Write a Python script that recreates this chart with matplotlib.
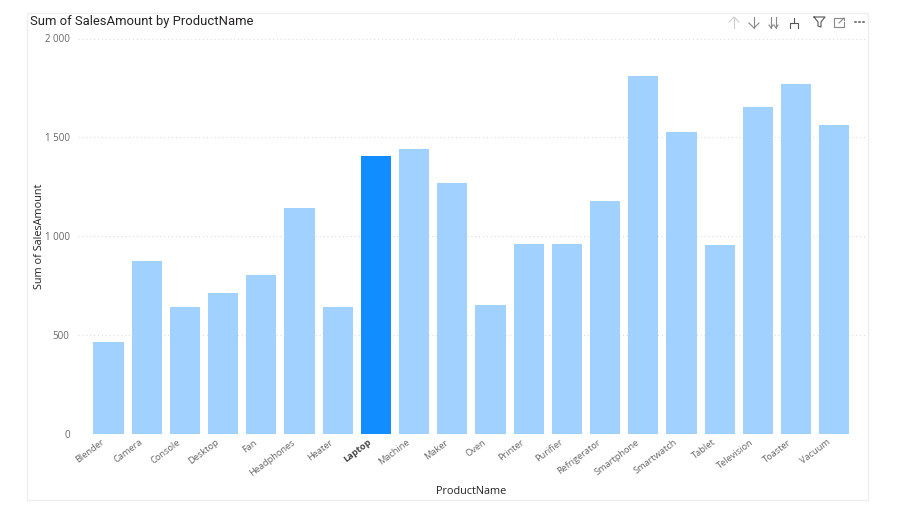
import matplotlib
matplotlib.use('Agg')
import matplotlib.pyplot as plt
from matplotlib.lines import Line2D
from matplotlib.patches import Rectangle
from matplotlib.transforms import ScaledTranslation

products = ['Blender', 'Camera', 'Console', 'Desktop', 'Fan', 'Headphones', 'Heater',
            'Laptop', 'Machine', 'Maker', 'Oven', 'Printer', 'Purifier', 'Refrigerator',
            'Smartphone', 'Smartwatch', 'Tablet', 'Television', 'Toaster', 'Vacuum']
sales = [463, 873, 640, 711, 801, 1142, 640, 1405, 1440, 1268,
         650, 959, 960, 1177, 1810, 1526, 954, 1653, 1770, 1562]
yticks = [0, 500, 1000, 1500, 2000]
ylabels = ['0', '500', '1 000', '1 500', '2 000']
selected = 'Laptop'

W, H = 900, 525
plt.rcParams['font.family'] = ['Open Sans', 'DejaVu Sans']

fig = plt.figure(figsize=(W / 100, H / 100), dpi=100)
ax = fig.add_axes([78 / W, 1 - 433.5 / H, (866 - 78) / W, 395 / H])


def px(x, y):
    return x / W, 1 - y / H


def icon(points, color='#555555', lw=0.8):
    xs, ys = zip(*[px(*p) for p in points])
    fig.add_artist(Line2D(xs, ys, color=color, lw=lw, transform=fig.transFigure))


# card border
fig.add_artist(Rectangle(px(27, 500), 841 / W, 487 / H, transform=fig.transFigure,
                         fc='none', ec='#eeeeee', lw=1, zorder=0))

colors = ['#118DFF' if p == selected else '#A0D1FF' for p in products]
ax.bar(range(len(products)), sales, width=0.79, color=colors, zorder=2)

ax.set_xlim(-0.8, 19.83)
ax.set_ylim(0, 2000)
ax.set_yticks(yticks, ylabels, color='#666666', fontsize=7)
ax.set_xticks(range(len(products)))
ax.set_xticklabels(products, rotation=37, ha='right', va='top', rotation_mode='anchor',
                   color='#666666', fontsize=6.7)
ax.tick_params(length=0, axis='both')
ax.tick_params(axis='y', pad=6)
ax.tick_params(axis='x', pad=3)
# labels end left of the bar centre, has to come after tick_params
shift = ScaledTranslation(-5.8 / 72, 0, fig.dpi_scale_trans)
for lbl in ax.get_xticklabels():
    lbl.set_transform(lbl.get_transform() + shift)
    if lbl.get_text() == selected:
        lbl.set_fontweight('bold')
        lbl.set_color('#444444')
ax.grid(axis='y', color='#dddddd', linestyle=(0, (1, 2.5)), lw=0.8, zorder=0)
for s in ax.spines.values():
    s.set_visible(False)

ax.set_ylabel('Sum of SalesAmount', fontsize=7.8, color='#252423')
ax.yaxis.set_label_coords((45 - 78) / (866 - 78), 0.5)
fig.text(471 / W, 1 - 492 / H, 'ProductName', fontsize=7.8, color='#252423',
         ha='center', va='center')
fig.text(30 / W, 1 - 21 / H, 'Sum of SalesAmount by ProductName', fontsize=9.4,
         family=['Roboto', 'DejaVu Sans'], color='#252423', va='center')

# header toolbar
light = '#cccccc'
icon([(734, 28), (734, 17)], light)
icon([(729, 22), (734, 17), (739, 22)], light)
icon([(754, 17), (754, 28)], '#888888')
icon([(749, 23), (754, 28), (759, 23)], '#888888')
for x in (771, 776):
    icon([(x, 17), (x, 28)], '#888888')
    icon([(x - 2, 25), (x, 28), (x + 2, 25)], '#888888')
icon([(794, 18), (794, 23)])
icon([(790, 28), (790, 23), (798, 23), (798, 28)])
icon([(814, 17), (825, 17), (821, 22), (821, 27), (818, 26), (818, 22), (814, 17)])
icon([(841, 18), (834, 18), (834, 27), (844, 27), (844, 22)], '#888888')
icon([(839, 23), (844, 18)], '#888888')
icon([(841, 18), (844, 18), (844, 20)], '#888888')
for x in (855, 859, 863):
    icon([(x, 22), (x + 1, 22)], lw=1.1)

fig.savefig('out.png', dpi=100)
